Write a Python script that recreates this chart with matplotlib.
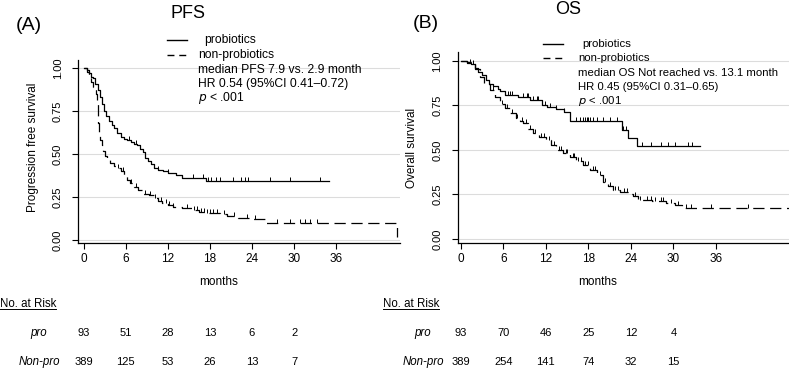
import numpy as np
import matplotlib
matplotlib.use("Agg")
import matplotlib.pyplot as plt
from matplotlib.path import Path
from matplotlib.lines import Line2D
from matplotlib.transforms import blended_transform_factory

plt.rcParams['font.family'] = ['Liberation Sans', 'DejaVu Sans']

# ---- PFS (A) ----
pfs_pro_t = [0, 0.5, 0.7, 1.0, 1.3, 1.6, 2.0, 2.3, 2.6, 2.9, 3.2, 3.6, 4.0, 4.4, 4.8, 5.3,
             5.8, 6.2, 6.8, 7.2, 7.6, 8.0, 8.4, 8.8, 9.2, 9.6, 10.0, 10.6, 11.3, 12.0,
             13.2, 14.0, 17.5, 35.0]
pfs_pro_s = [1.0, 0.99, 0.97, 0.95, 0.94, 0.91, 0.87, 0.83, 0.79, 0.75, 0.72, 0.69, 0.67,
             0.65, 0.62, 0.60, 0.59, 0.58, 0.57, 0.56, 0.55, 0.53, 0.51, 0.48, 0.46, 0.44,
             0.42, 0.41, 0.40, 0.39, 0.38, 0.36, 0.345, 0.345]
pfs_pro_cens = [6.5, 7.4, 10.6, 12.0, 15.6, 17.0, 17.8, 18.2, 18.9, 19.4, 21.3, 22.5,
                23.0, 23.5, 26.6, 29.4, 33.7]

pfs_non_t = [0, 0.5, 0.8, 1.1, 1.4, 1.7, 1.9, 2.0, 2.1, 2.2, 2.4, 2.6, 2.8, 3.1, 3.4, 3.8,
             4.3, 4.8, 5.3, 5.8, 6.2, 6.6, 7.2, 7.8, 8.5, 9.3, 10.0, 10.6, 11.2, 12.0,
             12.8, 14.0, 15.5, 16.5, 17.5, 19.5, 20.5, 22.0, 24.0, 25.8, 44.7, 44.7]
pfs_non_s = [1.0, 0.98, 0.95, 0.92, 0.89, 0.85, 0.80, 0.74, 0.68, 0.63, 0.58, 0.55, 0.52,
             0.49, 0.47, 0.45, 0.43, 0.42, 0.40, 0.38, 0.35, 0.33, 0.31, 0.29, 0.27, 0.26,
             0.245, 0.23, 0.215, 0.205, 0.195, 0.185, 0.175, 0.165, 0.16, 0.15, 0.14,
             0.13, 0.125, 0.10, 0.10, 0.02]
pfs_non_cens = [4.9, 5.6, 6.8, 7.5, 8.8, 9.5, 10.2, 11.0, 11.8, 12.2, 12.8, 14.8, 15.8,
                16.2, 16.8, 17.2, 17.6, 18.0, 18.5, 19.0, 20.0, 21.5, 23.3, 24.5, 27.6,
                29.4, 30.9, 31.6, 32.2, 33.2]

# ---- OS (B) ----
os_pro_t = [0, 0.9, 1.5, 2.0, 2.5, 3.0, 3.5, 4.0, 4.6, 5.2, 5.6, 6.2, 8.1, 9.8, 11.4, 12.2,
            13.5, 14.5, 15.4, 22.7, 23.6, 24.8, 33.7]
os_pro_s = [1.0, 0.99, 0.98, 0.96, 0.94, 0.92, 0.89, 0.87, 0.86, 0.845, 0.83, 0.81, 0.80,
            0.78, 0.755, 0.74, 0.73, 0.715, 0.66, 0.61, 0.565, 0.52, 0.52]
os_pro_cens = [1.3, 1.8, 6.7, 6.95, 7.2, 8.8, 9.3, 9.5, 10.2, 10.7, 10.9, 11.9, 12.6, 13.5,
               14.6, 16.3, 16.8, 17.3, 17.5, 17.8, 18.0, 18.2, 18.7, 19.2, 20.1, 21.1,
               22.0, 22.9, 23.3, 25.5, 26.9, 28.3, 29.3, 30.2, 32.1, 32.6]

os_non_t = [0, 0.9, 1.5, 2.0, 2.7, 3.3, 4.1, 4.8, 5.5, 6.2, 7.0, 7.8, 8.4, 8.8, 9.5, 10.2,
            11.0, 12.1, 12.8, 13.5, 14.4, 15.4, 16.3, 17.3, 18.2, 19.2, 20.1, 20.8, 21.5,
            22.5, 23.9, 24.3, 25.0, 27.0, 29.0, 30.2, 31.2, 46.3]
os_non_s = [1.0, 0.995, 0.98, 0.955, 0.91, 0.87, 0.835, 0.80, 0.76, 0.735, 0.71, 0.68,
            0.665, 0.65, 0.62, 0.595, 0.575, 0.555, 0.53, 0.50, 0.485, 0.46, 0.44, 0.415,
            0.39, 0.36, 0.32, 0.30, 0.275, 0.265, 0.255, 0.24, 0.22, 0.215, 0.205, 0.19,
            0.172, 0.172]
os_non_cens = [4.5, 5.8, 6.5, 7.3, 8.0, 8.6, 9.2, 9.8, 10.5, 11.3, 11.8, 12.5, 13.2, 13.9,
               14.2, 14.8, 15.0, 15.8, 16.0, 16.6, 17.0, 17.6, 18.0, 18.6, 19.0, 19.6,
               20.4, 21.1, 21.8, 22.2, 23.0, 23.4, 24.6, 25.3, 26.3, 26.8, 27.4, 28.2,
               28.6, 29.6, 30.6, 31.8, 32.5, 35.3, 40.5]

risk_times = [0, 6, 12, 18, 24, 30]
pfs_risk_pro = [93, 51, 28, 13, 6, 2]
pfs_risk_non = [389, 125, 53, 26, 13, 7]
os_risk_pro = [93, 70, 46, 25, 12, 4]
os_risk_non = [389, 254, 141, 74, 32, 15]

xticks = [0, 6, 12, 18, 24, 30, 36]
yticks = [0.0, 0.25, 0.5, 0.75, 1.0]

W, H = 789, 369
fig = plt.figure(figsize=(W / 100, H / 100), dpi=100)

tick_mark = Path([(0, 0), (0, 1)], [Path.MOVETO, Path.LINETO])


def step_at(ts, ss, x):
    i = np.searchsorted(ts, x, side='right') - 1
    return np.array(ss)[i]


def km(ax, ts, ss, cens, dashed):
    ls = (0, (9, 4.5)) if dashed else '-'
    ax.plot(ts, ss, drawstyle='steps-post', color='black', lw=0.9, linestyle=ls)
    cy = step_at(ts, ss, np.array(cens))
    ax.plot(cens, cy, linestyle='none', marker=tick_mark, markersize=6,
            markeredgecolor='black', markeredgewidth=0.7)


def style(ax, xlim, ylim, ylabel, ylab_pos, xlab_pos):
    ax.set_xlim(*xlim)
    ax.set_ylim(*ylim)
    ax.set_xticks(xticks)
    ax.set_yticks(yticks)
    ax.set_yticklabels(['0.00', '0.25', '0.50', '0.75', '1.00'], rotation=90, va='center')
    for s in ['top', 'right']:
        ax.spines[s].set_visible(False)
    for s in ['left', 'bottom']:
        ax.spines[s].set_linewidth(0.9)
    ax.tick_params(axis='x', length=4, width=0.8, pad=3, labelsize=8.5)
    ax.tick_params(axis='y', length=4, width=0.8, pad=7, labelsize=8)
    ax.grid(axis='y', color='#dcdcdc', lw=0.8)
    ax.set_axisbelow(True)
    ax.set_ylabel(ylabel, fontsize=8.5)
    ax.yaxis.set_label_coords(*ylab_pos)
    ax.set_xlabel('months', fontsize=8.5)
    ax.xaxis.set_label_coords(*xlab_pos)


def fx(x):
    return x / W


def fy(y):
    return 1 - y / H


axA = fig.add_axes([fx(78), fy(243), fx(400 - 78), (243 - 60) / H])
km(axA, pfs_pro_t, pfs_pro_s, pfs_pro_cens, False)
km(axA, pfs_non_t, pfs_non_s, pfs_non_cens, True)
style(axA, (-0.8, 45.1), (-0.017, 1.047), 'Progression free survival', (-0.122, 0.525),
      (0.436, -0.18))

axB = fig.add_axes([fx(457.5), fy(243.3), fx(789 - 457.5), (243.3 - 52) / H])
km(axB, os_pro_t, os_pro_s, os_pro_cens, False)
km(axB, os_non_t, os_non_s, os_non_cens, True)
style(axB, (-0.45, 46.3), (-0.024, 1.05), 'Overall survival', (-0.12, 0.5),
      (0.423, -0.173))

# panel letters and titles
fig.text(fx(29), fy(26), '(A)', fontsize=14, ha='center', va='center')
fig.text(fx(188), fy(13), 'PFS', fontsize=13, ha='center', va='center')
fig.text(fx(426), fy(23), '(B)', fontsize=14, ha='center', va='center')
fig.text(fx(568), fy(10), 'OS', fontsize=13, ha='center', va='center')

# legends / annotations
legends = [
    dict(x0=167, x1=187, ys=(40, 55), tx=(204, 198), fs=8.7,
         lines=['median PFS 7.9 vs. 2.9 month', 'HR 0.54 (95%CI 0.41\u20130.72)'],
         ly=(70, 84, 98)),
    dict(x0=543, x1=563, ys=(44, 58), tx=(582, 578), fs=8.2,
         lines=['median OS Not reached vs. 13.1 month', 'HR 0.45 (95%CI 0.31\u20130.65)'],
         ly=(73, 87, 101)),
]
for lg in legends:
    fs = lg['fs']
    fig.add_artist(Line2D([fx(lg['x0']), fx(lg['x1'])], [fy(lg['ys'][0])] * 2,
                          color='black', lw=1.0))
    fig.add_artist(Line2D([fx(lg['x0']), fx(lg['x1'])], [fy(lg['ys'][1])] * 2,
                          color='black', lw=1.0, linestyle=(0, (5, 3.5))))
    fig.text(fx(lg['tx'][0]), fy(lg['ys'][0]), 'probiotics', fontsize=fs, va='center')
    fig.text(fx(lg['tx'][1]), fy(lg['ys'][1]), 'non-probiotics', fontsize=fs, va='center')
    fig.text(fx(lg['tx'][1]), fy(lg['ly'][0]), lg['lines'][0], fontsize=fs, va='center')
    fig.text(fx(lg['tx'][1]), fy(lg['ly'][1]), lg['lines'][1], fontsize=fs, va='center')
    fig.text(fx(lg['tx'][1]), fy(lg['ly'][2]), r'$p$ < .001', fontsize=fs, va='center')

# number at risk tables
fig.canvas.draw()
renderer = fig.canvas.get_renderer()
for ax, left, lab_x, pro, non in [(axA, 0, 39, pfs_risk_pro, pfs_risk_non),
                                  (axB, 383, 423, os_risk_pro, os_risk_non)]:
    t = fig.text(fx(left), fy(304), 'No. at Risk', fontsize=8.3, va='center')
    bb = t.get_window_extent(renderer).transformed(fig.transFigure.inverted())
    fig.add_artist(Line2D([bb.x0, bb.x1], [bb.y0 + 0.003] * 2, color='black', lw=0.7))
    fig.text(fx(lab_x), fy(333), 'pro', fontsize=8.3, style='italic', ha='center',
             va='center')
    fig.text(fx(lab_x), fy(362), 'Non-pro', fontsize=8.3, style='italic', ha='center',
             va='center')
    tr = blended_transform_factory(ax.transData, fig.transFigure)
    for tm, a, b in zip(risk_times, pro, non):
        ax.text(tm, fy(333), str(a), transform=tr, fontsize=8, ha='center', va='center',
                clip_on=False)
        ax.text(tm, fy(362), str(b), transform=tr, fontsize=8, ha='center', va='center',
                clip_on=False)

fig.savefig('out.png', dpi=100)
